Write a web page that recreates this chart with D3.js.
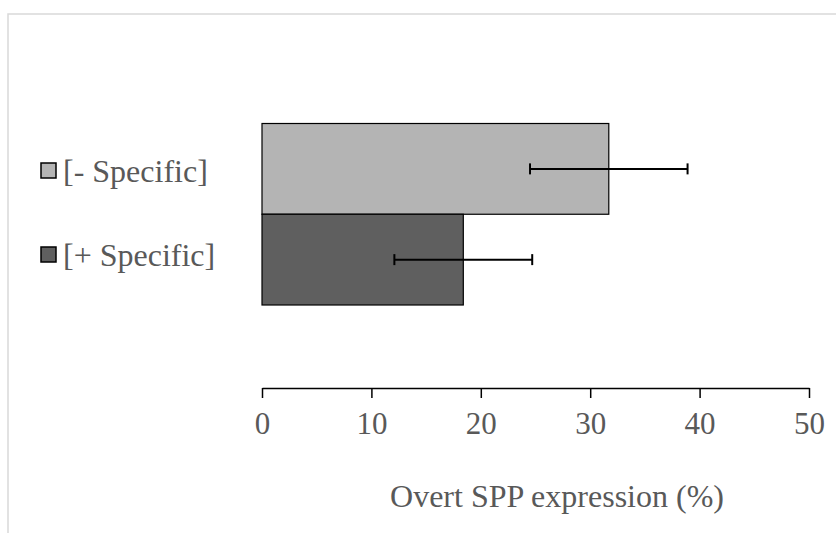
<!DOCTYPE html>
<html>
<head>
<meta charset="utf-8">
<script src="https://cdn.jsdelivr.net/npm/d3@7/dist/d3.min.js"></script>
<style>
  html, body { margin: 0; padding: 0; background: #fff; }
  svg { display: block; }
  text { font-family: "Liberation Serif", "Times New Roman", serif; fill: #595959; }
</style>
</head>
<body>
<svg id="chart" width="836" height="533"></svg>
<script>
// Series shown as horizontal bars, with symmetric error bars
const series = ["[- Specific]", "[+ Specific]"];
const values = [31.7, 18.4];
const errors = [7.2, 6.3];
const xTicks = [0, 10, 20, 30, 40, 50];
const axisTitle = "Overt SPP expression (%)";

const svg = d3.select("#chart");

// Outer chart-area frame
svg.append("rect")
  .attr("x", 8).attr("y", 14)
  .attr("width", 860).attr("height", 560)
  .attr("fill", "none")
  .attr("stroke", "#d9d9d9")
  .attr("stroke-width", 1.5);

const x = d3.scaleLinear().domain([0, 50]).range([262, 809]);
const y = d3.scaleBand().domain(series).range([123.5, 305]).padding(0);
const color = d3.scaleOrdinal().domain(series).range(["#b4b4b4", "#5f5f5f"]);

const rows = series.map((s, i) => ({ name: s, value: values[i], err: errors[i] }));

// Bars
svg.append("g").selectAll("rect")
  .data(rows)
  .join("rect")
  .attr("x", x(0))
  .attr("y", d => y(d.name))
  .attr("width", d => x(d.value) - x(0))
  .attr("height", y.bandwidth())
  .attr("fill", d => color(d.name))
  .attr("stroke", "#000")
  .attr("stroke-width", 1.2);

// Error bars
const eb = svg.append("g").attr("stroke", "#000").attr("stroke-width", 2);
rows.forEach(d => {
  const cy = y(d.name) + y.bandwidth() / 2;
  const x1 = x(d.value - d.err), x2 = x(d.value + d.err);
  eb.append("line").attr("x1", x1).attr("x2", x2).attr("y1", cy).attr("y2", cy);
  [x1, x2].forEach(cx => {
    eb.append("line").attr("x1", cx).attr("x2", cx).attr("y1", cy - 5.5).attr("y2", cy + 5.5);
  });
});

// Value axis
const axis = svg.append("g")
  .attr("transform", "translate(0,388)")
  .call(d3.axisBottom(x).tickValues(xTicks).tickSize(10).tickSizeOuter(0).tickPadding(14));
axis.select(".domain").attr("stroke", "#000").attr("stroke-width", 1.5);
axis.selectAll(".tick line").attr("stroke", "#000").attr("stroke-width", 1.5);
axis.selectAll(".tick text")
  .attr("fill", "#595959")
  .style("font-family", "'Liberation Serif', 'Times New Roman', serif")
  .style("font-size", "31px");

// Axis title
svg.append("text")
  .attr("x", 557).attr("y", 507)
  .attr("text-anchor", "middle")
  .style("font-size", "32px")
  .text(axisTitle);

// Legend
const legend = svg.append("g").selectAll("g")
  .data(series)
  .join("g")
  .attr("transform", (d, i) => `translate(41,${163 + i * 84})`);
legend.append("rect")
  .attr("width", 15).attr("height", 15)
  .attr("fill", d => color(d))
  .attr("stroke", "#000")
  .attr("stroke-width", 1.5);
legend.append("text")
  .attr("x", 22).attr("y", 18.5)
  .style("font-size", "32px")
  .text(d => d);
</script>
</body>
</html>
